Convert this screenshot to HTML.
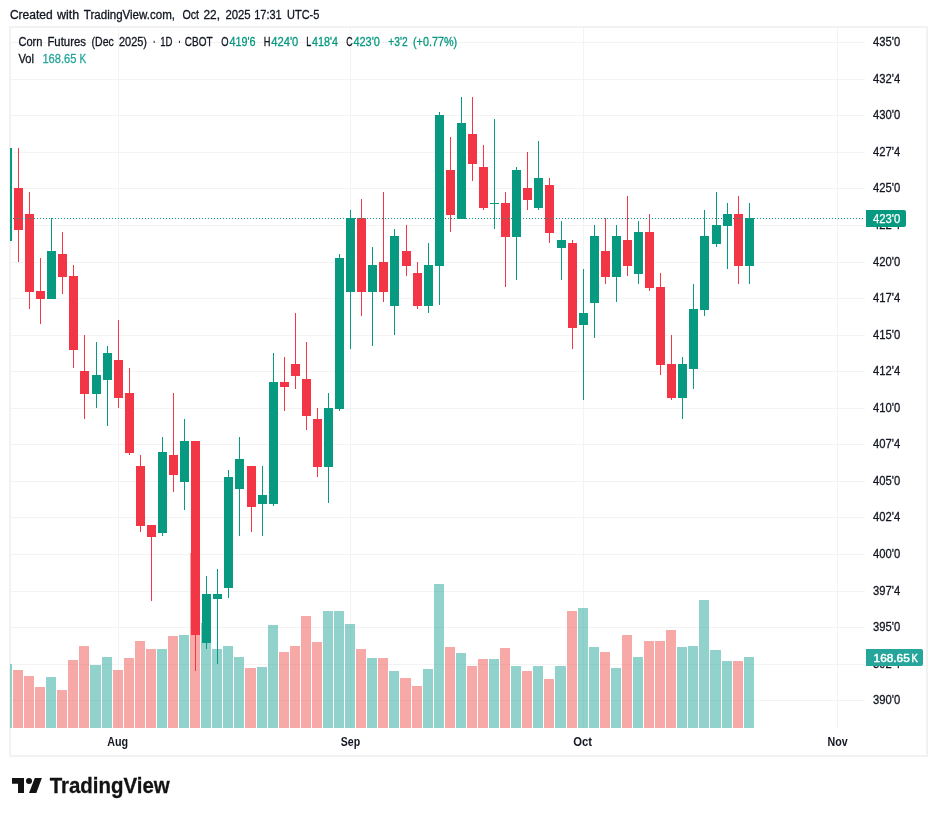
<!DOCTYPE html>
<html><head><meta charset="utf-8"><title>Corn Futures (Dec 2025)</title>
<style>
html,body{margin:0;padding:0;background:#fff;}
body{width:937px;height:816px;position:relative;overflow:hidden;}
svg{position:absolute;left:0;top:0;font-family:"Liberation Sans",sans-serif;}
</style></head><body>
<svg width="937" height="816" viewBox="0 0 937 816" shape-rendering="crispEdges">
<rect x="10" y="27" width="917" height="729" fill="#fff" stroke="#f2f2f3" stroke-width="2"/>
<g id="grid"><rect x="11" y="42" width="854" height="1" fill="#f3f3f4"/><rect x="11" y="79" width="854" height="1" fill="#f3f3f4"/><rect x="11" y="115" width="854" height="1" fill="#f3f3f4"/><rect x="11" y="152" width="854" height="1" fill="#f3f3f4"/><rect x="11" y="188" width="854" height="1" fill="#f3f3f4"/><rect x="11" y="225" width="854" height="1" fill="#f3f3f4"/><rect x="11" y="262" width="854" height="1" fill="#f3f3f4"/><rect x="11" y="298" width="854" height="1" fill="#f3f3f4"/><rect x="11" y="335" width="854" height="1" fill="#f3f3f4"/><rect x="11" y="371" width="854" height="1" fill="#f3f3f4"/><rect x="11" y="408" width="854" height="1" fill="#f3f3f4"/><rect x="11" y="444" width="854" height="1" fill="#f3f3f4"/><rect x="11" y="481" width="854" height="1" fill="#f3f3f4"/><rect x="11" y="517" width="854" height="1" fill="#f3f3f4"/><rect x="11" y="554" width="854" height="1" fill="#f3f3f4"/><rect x="11" y="591" width="854" height="1" fill="#f3f3f4"/><rect x="11" y="627" width="854" height="1" fill="#f3f3f4"/><rect x="11" y="664" width="854" height="1" fill="#f3f3f4"/><rect x="11" y="700" width="854" height="1" fill="#f3f3f4"/><rect x="118" y="28" width="1" height="700" fill="#f3f3f4"/><rect x="350" y="28" width="1" height="700" fill="#f3f3f4"/><rect x="583" y="28" width="1" height="700" fill="#f3f3f4"/><rect x="837" y="28" width="1" height="700" fill="#f3f3f4"/></g>
<g id="volume"><rect x="10" y="664" width="2" height="64" fill="rgba(38,166,154,0.5)"/><rect x="13" y="670" width="10" height="58" fill="rgba(239,83,80,0.5)"/><rect x="24" y="676" width="10" height="52" fill="rgba(239,83,80,0.5)"/><rect x="35" y="687" width="10" height="41" fill="rgba(239,83,80,0.5)"/><rect x="46" y="677" width="10" height="51" fill="rgba(38,166,154,0.5)"/><rect x="57" y="690" width="10" height="38" fill="rgba(239,83,80,0.5)"/><rect x="68" y="660" width="10" height="68" fill="rgba(239,83,80,0.5)"/><rect x="79" y="646" width="10" height="82" fill="rgba(239,83,80,0.5)"/><rect x="90" y="665" width="11" height="63" fill="rgba(38,166,154,0.5)"/><rect x="102" y="657" width="10" height="71" fill="rgba(38,166,154,0.5)"/><rect x="113" y="670" width="10" height="58" fill="rgba(239,83,80,0.5)"/><rect x="124" y="658" width="10" height="70" fill="rgba(239,83,80,0.5)"/><rect x="135" y="641" width="10" height="87" fill="rgba(239,83,80,0.5)"/><rect x="146" y="649" width="10" height="79" fill="rgba(239,83,80,0.5)"/><rect x="157" y="649" width="10" height="79" fill="rgba(38,166,154,0.5)"/><rect x="168" y="636" width="10" height="92" fill="rgba(239,83,80,0.5)"/><rect x="179" y="635" width="10" height="93" fill="rgba(38,166,154,0.5)"/><rect x="190" y="553" width="10" height="175" fill="rgba(239,83,80,0.5)"/><rect x="201" y="623" width="10" height="105" fill="rgba(38,166,154,0.5)"/><rect x="212" y="649" width="10" height="79" fill="rgba(38,166,154,0.5)"/><rect x="223" y="646" width="10" height="82" fill="rgba(38,166,154,0.5)"/><rect x="234" y="657" width="10" height="71" fill="rgba(38,166,154,0.5)"/><rect x="245" y="668" width="11" height="60" fill="rgba(239,83,80,0.5)"/><rect x="257" y="667" width="10" height="61" fill="rgba(38,166,154,0.5)"/><rect x="268" y="625" width="10" height="103" fill="rgba(38,166,154,0.5)"/><rect x="279" y="652" width="10" height="76" fill="rgba(239,83,80,0.5)"/><rect x="290" y="646" width="10" height="82" fill="rgba(239,83,80,0.5)"/><rect x="301" y="616" width="10" height="112" fill="rgba(239,83,80,0.5)"/><rect x="312" y="642" width="10" height="86" fill="rgba(239,83,80,0.5)"/><rect x="323" y="611" width="10" height="117" fill="rgba(38,166,154,0.5)"/><rect x="334" y="611" width="10" height="117" fill="rgba(38,166,154,0.5)"/><rect x="345" y="624" width="10" height="104" fill="rgba(38,166,154,0.5)"/><rect x="356" y="649" width="10" height="79" fill="rgba(239,83,80,0.5)"/><rect x="367" y="658" width="10" height="70" fill="rgba(38,166,154,0.5)"/><rect x="378" y="658" width="10" height="70" fill="rgba(239,83,80,0.5)"/><rect x="389" y="671" width="10" height="57" fill="rgba(38,166,154,0.5)"/><rect x="400" y="678" width="11" height="50" fill="rgba(239,83,80,0.5)"/><rect x="412" y="686" width="10" height="42" fill="rgba(239,83,80,0.5)"/><rect x="423" y="669" width="10" height="59" fill="rgba(38,166,154,0.5)"/><rect x="434" y="584" width="10" height="144" fill="rgba(38,166,154,0.5)"/><rect x="445" y="647" width="10" height="81" fill="rgba(239,83,80,0.5)"/><rect x="456" y="653" width="10" height="75" fill="rgba(38,166,154,0.5)"/><rect x="467" y="666" width="10" height="62" fill="rgba(239,83,80,0.5)"/><rect x="478" y="659" width="10" height="69" fill="rgba(239,83,80,0.5)"/><rect x="489" y="659" width="10" height="69" fill="rgba(38,166,154,0.5)"/><rect x="500" y="648" width="10" height="80" fill="rgba(239,83,80,0.5)"/><rect x="511" y="666" width="10" height="62" fill="rgba(38,166,154,0.5)"/><rect x="522" y="671" width="10" height="57" fill="rgba(239,83,80,0.5)"/><rect x="533" y="666" width="10" height="62" fill="rgba(38,166,154,0.5)"/><rect x="544" y="679" width="10" height="49" fill="rgba(239,83,80,0.5)"/><rect x="555" y="666" width="11" height="62" fill="rgba(38,166,154,0.5)"/><rect x="567" y="611" width="10" height="117" fill="rgba(239,83,80,0.5)"/><rect x="578" y="608" width="10" height="120" fill="rgba(38,166,154,0.5)"/><rect x="589" y="647" width="10" height="81" fill="rgba(38,166,154,0.5)"/><rect x="600" y="652" width="10" height="76" fill="rgba(239,83,80,0.5)"/><rect x="611" y="668" width="10" height="60" fill="rgba(38,166,154,0.5)"/><rect x="622" y="635" width="10" height="93" fill="rgba(239,83,80,0.5)"/><rect x="633" y="657" width="10" height="71" fill="rgba(38,166,154,0.5)"/><rect x="644" y="641" width="10" height="87" fill="rgba(239,83,80,0.5)"/><rect x="655" y="641" width="10" height="87" fill="rgba(239,83,80,0.5)"/><rect x="666" y="630" width="10" height="98" fill="rgba(239,83,80,0.5)"/><rect x="677" y="647" width="10" height="81" fill="rgba(38,166,154,0.5)"/><rect x="688" y="646" width="10" height="82" fill="rgba(38,166,154,0.5)"/><rect x="699" y="600" width="10" height="128" fill="rgba(38,166,154,0.5)"/><rect x="710" y="650" width="11" height="78" fill="rgba(38,166,154,0.5)"/><rect x="722" y="661" width="10" height="67" fill="rgba(38,166,154,0.5)"/><rect x="733" y="661" width="10" height="67" fill="rgba(239,83,80,0.5)"/><rect x="744" y="657" width="10" height="71" fill="rgba(38,166,154,0.5)"/></g>
<g id="candles"><rect x="10" y="148" width="2" height="93" fill="#089981"/><rect x="18" y="148" width="1" height="114" fill="#f23645"/><rect x="14" y="188" width="9" height="42" fill="#f23645"/><rect x="29" y="192" width="1" height="117" fill="#f23645"/><rect x="25" y="214" width="9" height="78" fill="#f23645"/><rect x="40" y="258" width="1" height="66" fill="#f23645"/><rect x="36" y="291" width="9" height="8" fill="#f23645"/><rect x="51" y="218" width="1" height="81" fill="#089981"/><rect x="47" y="251" width="9" height="48" fill="#089981"/><rect x="62" y="232" width="1" height="62" fill="#f23645"/><rect x="58" y="254" width="9" height="23" fill="#f23645"/><rect x="73" y="265" width="1" height="103" fill="#f23645"/><rect x="69" y="276" width="9" height="74" fill="#f23645"/><rect x="84" y="335" width="1" height="84" fill="#f23645"/><rect x="80" y="371" width="9" height="23" fill="#f23645"/><rect x="96" y="342" width="1" height="66" fill="#089981"/><rect x="92" y="375" width="9" height="19" fill="#089981"/><rect x="107" y="346" width="1" height="80" fill="#089981"/><rect x="103" y="353" width="9" height="27" fill="#089981"/><rect x="118" y="320" width="1" height="88" fill="#f23645"/><rect x="114" y="360" width="9" height="38" fill="#f23645"/><rect x="129" y="368" width="1" height="87" fill="#f23645"/><rect x="125" y="393" width="9" height="60" fill="#f23645"/><rect x="140" y="455" width="1" height="77" fill="#f23645"/><rect x="136" y="466" width="9" height="60" fill="#f23645"/><rect x="151" y="525" width="1" height="76" fill="#f23645"/><rect x="147" y="525" width="9" height="12" fill="#f23645"/><rect x="162" y="437" width="1" height="99" fill="#089981"/><rect x="158" y="452" width="9" height="81" fill="#089981"/><rect x="173" y="393" width="1" height="99" fill="#f23645"/><rect x="169" y="455" width="9" height="20" fill="#f23645"/><rect x="184" y="419" width="1" height="91" fill="#089981"/><rect x="180" y="441" width="9" height="41" fill="#089981"/><rect x="195" y="441" width="1" height="230" fill="#f23645"/><rect x="191" y="441" width="9" height="194" fill="#f23645"/><rect x="206" y="576" width="1" height="73" fill="#089981"/><rect x="202" y="594" width="9" height="49" fill="#089981"/><rect x="217" y="569" width="1" height="95" fill="#089981"/><rect x="213" y="594" width="9" height="5" fill="#089981"/><rect x="228" y="470" width="1" height="128" fill="#089981"/><rect x="224" y="477" width="9" height="111" fill="#089981"/><rect x="239" y="437" width="1" height="99" fill="#089981"/><rect x="235" y="459" width="9" height="30" fill="#089981"/><rect x="251" y="466" width="1" height="66" fill="#f23645"/><rect x="247" y="466" width="9" height="41" fill="#f23645"/><rect x="262" y="466" width="1" height="70" fill="#089981"/><rect x="258" y="495" width="9" height="9" fill="#089981"/><rect x="273" y="353" width="1" height="153" fill="#089981"/><rect x="269" y="382" width="9" height="122" fill="#089981"/><rect x="284" y="357" width="1" height="54" fill="#f23645"/><rect x="280" y="382" width="9" height="5" fill="#f23645"/><rect x="295" y="313" width="1" height="76" fill="#f23645"/><rect x="291" y="364" width="9" height="12" fill="#f23645"/><rect x="306" y="342" width="1" height="88" fill="#f23645"/><rect x="302" y="379" width="9" height="37" fill="#f23645"/><rect x="317" y="408" width="1" height="69" fill="#f23645"/><rect x="313" y="419" width="9" height="48" fill="#f23645"/><rect x="328" y="393" width="1" height="110" fill="#089981"/><rect x="324" y="408" width="9" height="59" fill="#089981"/><rect x="339" y="254" width="1" height="157" fill="#089981"/><rect x="335" y="258" width="9" height="151" fill="#089981"/><rect x="350" y="210" width="1" height="139" fill="#089981"/><rect x="346" y="218" width="9" height="74" fill="#089981"/><rect x="361" y="199" width="1" height="117" fill="#f23645"/><rect x="357" y="218" width="9" height="74" fill="#f23645"/><rect x="372" y="247" width="1" height="99" fill="#089981"/><rect x="368" y="265" width="9" height="27" fill="#089981"/><rect x="383" y="192" width="1" height="110" fill="#f23645"/><rect x="379" y="262" width="9" height="30" fill="#f23645"/><rect x="394" y="229" width="1" height="106" fill="#089981"/><rect x="390" y="236" width="9" height="70" fill="#089981"/><rect x="406" y="225" width="1" height="51" fill="#f23645"/><rect x="402" y="251" width="9" height="15" fill="#f23645"/><rect x="417" y="262" width="1" height="47" fill="#f23645"/><rect x="413" y="273" width="9" height="33" fill="#f23645"/><rect x="428" y="243" width="1" height="70" fill="#089981"/><rect x="424" y="265" width="9" height="41" fill="#089981"/><rect x="439" y="112" width="1" height="193" fill="#089981"/><rect x="435" y="115" width="9" height="151" fill="#089981"/><rect x="450" y="137" width="1" height="95" fill="#f23645"/><rect x="446" y="170" width="9" height="45" fill="#f23645"/><rect x="461" y="97" width="1" height="122" fill="#089981"/><rect x="457" y="123" width="9" height="96" fill="#089981"/><rect x="472" y="97" width="1" height="84" fill="#f23645"/><rect x="468" y="134" width="9" height="30" fill="#f23645"/><rect x="483" y="145" width="1" height="65" fill="#f23645"/><rect x="479" y="167" width="9" height="41" fill="#f23645"/><rect x="494" y="119" width="1" height="110" fill="#089981"/><rect x="490" y="203" width="9" height="1" fill="#089981"/><rect x="505" y="192" width="1" height="95" fill="#f23645"/><rect x="501" y="203" width="9" height="34" fill="#f23645"/><rect x="516" y="167" width="1" height="113" fill="#089981"/><rect x="512" y="170" width="9" height="67" fill="#089981"/><rect x="527" y="152" width="1" height="58" fill="#f23645"/><rect x="523" y="188" width="9" height="12" fill="#f23645"/><rect x="538" y="141" width="1" height="69" fill="#089981"/><rect x="534" y="178" width="9" height="30" fill="#089981"/><rect x="549" y="178" width="1" height="65" fill="#f23645"/><rect x="545" y="185" width="9" height="48" fill="#f23645"/><rect x="561" y="221" width="1" height="59" fill="#089981"/><rect x="557" y="240" width="9" height="8" fill="#089981"/><rect x="572" y="240" width="1" height="109" fill="#f23645"/><rect x="568" y="243" width="9" height="85" fill="#f23645"/><rect x="583" y="269" width="1" height="131" fill="#089981"/><rect x="579" y="313" width="9" height="12" fill="#089981"/><rect x="594" y="225" width="1" height="113" fill="#089981"/><rect x="590" y="236" width="9" height="67" fill="#089981"/><rect x="605" y="218" width="1" height="66" fill="#f23645"/><rect x="601" y="251" width="9" height="26" fill="#f23645"/><rect x="616" y="225" width="1" height="77" fill="#089981"/><rect x="612" y="236" width="9" height="41" fill="#089981"/><rect x="627" y="196" width="1" height="80" fill="#f23645"/><rect x="623" y="240" width="9" height="26" fill="#f23645"/><rect x="638" y="221" width="1" height="63" fill="#089981"/><rect x="634" y="232" width="9" height="42" fill="#089981"/><rect x="649" y="214" width="1" height="77" fill="#f23645"/><rect x="645" y="232" width="9" height="56" fill="#f23645"/><rect x="660" y="273" width="1" height="102" fill="#f23645"/><rect x="656" y="287" width="9" height="78" fill="#f23645"/><rect x="671" y="335" width="1" height="65" fill="#f23645"/><rect x="667" y="364" width="9" height="34" fill="#f23645"/><rect x="682" y="357" width="1" height="62" fill="#089981"/><rect x="678" y="364" width="9" height="34" fill="#089981"/><rect x="693" y="284" width="1" height="105" fill="#089981"/><rect x="689" y="309" width="9" height="60" fill="#089981"/><rect x="704" y="210" width="1" height="106" fill="#089981"/><rect x="700" y="236" width="9" height="74" fill="#089981"/><rect x="716" y="192" width="1" height="55" fill="#089981"/><rect x="712" y="225" width="9" height="19" fill="#089981"/><rect x="727" y="203" width="1" height="66" fill="#089981"/><rect x="723" y="214" width="9" height="12" fill="#089981"/><rect x="738" y="196" width="1" height="88" fill="#f23645"/><rect x="734" y="214" width="9" height="52" fill="#f23645"/><rect x="749" y="203" width="1" height="81" fill="#089981"/><rect x="745" y="218" width="9" height="48" fill="#089981"/></g>
<line x1="13" y1="218.5" x2="864" y2="218.5" stroke="#089981" stroke-width="1" stroke-dasharray="1 2"/>
<g id="labels"><text><tspan x="9.90" y="18.80" font-size="12" textLength="42.89" lengthAdjust="spacingAndGlyphs" fill="#131722" stroke="#131722" stroke-width="0.3">Created</tspan> <tspan x="57.05" y="18.80" font-size="12" textLength="22.14" lengthAdjust="spacingAndGlyphs" fill="#131722" stroke="#131722" stroke-width="0.3">with</tspan> <tspan x="83.80" y="18.80" font-size="12" textLength="91.22" lengthAdjust="spacingAndGlyphs" fill="#131722" stroke="#131722" stroke-width="0.3">TradingView.com,</tspan> <tspan x="182.40" y="18.80" font-size="12" textLength="16.62" lengthAdjust="spacingAndGlyphs" fill="#131722" stroke="#131722" stroke-width="0.3">Oct</tspan> <tspan x="203.50" y="18.80" font-size="12" textLength="16.48" lengthAdjust="spacingAndGlyphs" fill="#131722" stroke="#131722" stroke-width="0.3">22,</tspan> <tspan x="225.40" y="18.80" font-size="12" textLength="25.30" lengthAdjust="spacingAndGlyphs" fill="#131722" stroke="#131722" stroke-width="0.3">2025</tspan> <tspan x="254.20" y="18.80" font-size="12" textLength="27.48" lengthAdjust="spacingAndGlyphs" fill="#131722" stroke="#131722" stroke-width="0.3">17:31</tspan> <tspan x="287.00" y="18.80" font-size="12" textLength="32.38" lengthAdjust="spacingAndGlyphs" fill="#131722" stroke="#131722" stroke-width="0.3">UTC-5</tspan></text><text><tspan x="18.40" y="46.00" font-size="12" textLength="24.01" lengthAdjust="spacingAndGlyphs" fill="#131722" stroke="#131722" stroke-width="0.3">Corn</tspan> <tspan x="47.40" y="46.00" font-size="12" textLength="38.58" lengthAdjust="spacingAndGlyphs" fill="#131722" stroke="#131722" stroke-width="0.3">Futures</tspan> <tspan x="91.60" y="46.00" font-size="12" textLength="22.19" lengthAdjust="spacingAndGlyphs" fill="#131722" stroke="#131722" stroke-width="0.3">(Dec</tspan> <tspan x="119.00" y="46.00" font-size="12" textLength="27.99" lengthAdjust="spacingAndGlyphs" fill="#131722" stroke="#131722" stroke-width="0.3">2025)</tspan> <tspan x="153.20" y="46.60" font-size="15" textLength="2.20" lengthAdjust="spacingAndGlyphs" fill="#131722" font-weight="bold">·</tspan> <tspan x="160.20" y="46.00" font-size="12" textLength="12.29" lengthAdjust="spacingAndGlyphs" fill="#131722" stroke="#131722" stroke-width="0.3">1D</tspan> <tspan x="178.60" y="46.60" font-size="15" textLength="2.20" lengthAdjust="spacingAndGlyphs" fill="#131722" font-weight="bold">·</tspan> <tspan x="184.80" y="46.00" font-size="12" textLength="27.69" lengthAdjust="spacingAndGlyphs" fill="#131722" stroke="#131722" stroke-width="0.3">CBOT</tspan> <tspan x="221.30" y="46.00" font-size="12" textLength="7.29" lengthAdjust="spacingAndGlyphs" fill="#131722" stroke="#131722" stroke-width="0.3">O</tspan><tspan x="229.40" y="46.00" font-size="12" textLength="26.09" lengthAdjust="spacingAndGlyphs" fill="#089981" stroke="#089981" stroke-width="0.3">419'6</tspan> <tspan x="263.80" y="46.00" font-size="12" textLength="6.71" lengthAdjust="spacingAndGlyphs" fill="#131722" stroke="#131722" stroke-width="0.3">H</tspan><tspan x="271.20" y="46.00" font-size="12" textLength="27.09" lengthAdjust="spacingAndGlyphs" fill="#089981" stroke="#089981" stroke-width="0.3">424'0</tspan> <tspan x="306.30" y="46.00" font-size="12" textLength="5.02" lengthAdjust="spacingAndGlyphs" fill="#131722" stroke="#131722" stroke-width="0.3">L</tspan><tspan x="312.10" y="46.00" font-size="12" textLength="25.99" lengthAdjust="spacingAndGlyphs" fill="#089981" stroke="#089981" stroke-width="0.3">418'4</tspan> <tspan x="346.30" y="46.00" font-size="12" textLength="6.41" lengthAdjust="spacingAndGlyphs" fill="#131722" stroke="#131722" stroke-width="0.3">C</tspan><tspan x="353.40" y="46.00" font-size="12" textLength="26.49" lengthAdjust="spacingAndGlyphs" fill="#089981" stroke="#089981" stroke-width="0.3">423'0</tspan> <tspan x="388.30" y="46.00" font-size="12" textLength="19.30" lengthAdjust="spacingAndGlyphs" fill="#089981" stroke="#089981" stroke-width="0.3">+3'2</tspan> <tspan x="413.00" y="46.00" font-size="12" textLength="44.08" lengthAdjust="spacingAndGlyphs" fill="#089981" stroke="#089981" stroke-width="0.3">(+0.77%)</tspan></text><text><tspan x="18.40" y="62.80" font-size="12" textLength="15.58" lengthAdjust="spacingAndGlyphs" fill="#131722" stroke="#131722" stroke-width="0.3">Vol</tspan> <tspan x="42.40" y="62.80" font-size="12" textLength="34.01" lengthAdjust="spacingAndGlyphs" fill="#26a69a" stroke="#26a69a" stroke-width="0.3">168.65</tspan> <tspan x="79.60" y="62.80" font-size="12" textLength="6.70" lengthAdjust="spacingAndGlyphs" fill="#26a69a" stroke="#26a69a" stroke-width="0.3">K</tspan></text><text x="873.00" y="46.30" font-size="12" textLength="27.19" lengthAdjust="spacingAndGlyphs" fill="#131722" stroke="#131722" stroke-width="0.3">435'0</text><text x="873.00" y="83.30" font-size="12" textLength="27.19" lengthAdjust="spacingAndGlyphs" fill="#131722" stroke="#131722" stroke-width="0.3">432'4</text><text x="873.00" y="119.30" font-size="12" textLength="27.19" lengthAdjust="spacingAndGlyphs" fill="#131722" stroke="#131722" stroke-width="0.3">430'0</text><text x="873.00" y="156.30" font-size="12" textLength="27.19" lengthAdjust="spacingAndGlyphs" fill="#131722" stroke="#131722" stroke-width="0.3">427'4</text><text x="873.00" y="192.30" font-size="12" textLength="27.19" lengthAdjust="spacingAndGlyphs" fill="#131722" stroke="#131722" stroke-width="0.3">425'0</text><text x="873.00" y="229.30" font-size="12" textLength="27.19" lengthAdjust="spacingAndGlyphs" fill="#131722" stroke="#131722" stroke-width="0.3">422'4</text><text x="873.00" y="266.30" font-size="12" textLength="27.19" lengthAdjust="spacingAndGlyphs" fill="#131722" stroke="#131722" stroke-width="0.3">420'0</text><text x="873.00" y="302.30" font-size="12" textLength="27.19" lengthAdjust="spacingAndGlyphs" fill="#131722" stroke="#131722" stroke-width="0.3">417'4</text><text x="873.00" y="339.30" font-size="12" textLength="27.19" lengthAdjust="spacingAndGlyphs" fill="#131722" stroke="#131722" stroke-width="0.3">415'0</text><text x="873.00" y="375.30" font-size="12" textLength="27.19" lengthAdjust="spacingAndGlyphs" fill="#131722" stroke="#131722" stroke-width="0.3">412'4</text><text x="873.00" y="412.30" font-size="12" textLength="27.19" lengthAdjust="spacingAndGlyphs" fill="#131722" stroke="#131722" stroke-width="0.3">410'0</text><text x="873.00" y="448.30" font-size="12" textLength="27.19" lengthAdjust="spacingAndGlyphs" fill="#131722" stroke="#131722" stroke-width="0.3">407'4</text><text x="873.00" y="485.30" font-size="12" textLength="27.19" lengthAdjust="spacingAndGlyphs" fill="#131722" stroke="#131722" stroke-width="0.3">405'0</text><text x="873.00" y="521.30" font-size="12" textLength="27.19" lengthAdjust="spacingAndGlyphs" fill="#131722" stroke="#131722" stroke-width="0.3">402'4</text><text x="873.00" y="558.30" font-size="12" textLength="27.19" lengthAdjust="spacingAndGlyphs" fill="#131722" stroke="#131722" stroke-width="0.3">400'0</text><text x="873.00" y="595.30" font-size="12" textLength="27.19" lengthAdjust="spacingAndGlyphs" fill="#131722" stroke="#131722" stroke-width="0.3">397'4</text><text x="873.00" y="631.30" font-size="12" textLength="27.19" lengthAdjust="spacingAndGlyphs" fill="#131722" stroke="#131722" stroke-width="0.3">395'0</text><text x="873.00" y="668.30" font-size="12" textLength="27.19" lengthAdjust="spacingAndGlyphs" fill="#131722" stroke="#131722" stroke-width="0.3">392'4</text><text x="873.00" y="704.30" font-size="12" textLength="27.19" lengthAdjust="spacingAndGlyphs" fill="#131722" stroke="#131722" stroke-width="0.3">390'0</text><text x="107.20" y="745.90" font-size="12" textLength="20.88" lengthAdjust="spacingAndGlyphs" fill="#131722" font-weight="bold">Aug</text><text x="340.70" y="745.90" font-size="12" textLength="19.41" lengthAdjust="spacingAndGlyphs" fill="#131722" font-weight="bold">Sep</text><text x="573.30" y="745.90" font-size="12" textLength="18.80" lengthAdjust="spacingAndGlyphs" fill="#131722" font-weight="bold">Oct</text><text x="827.60" y="745.90" font-size="12" textLength="20.12" lengthAdjust="spacingAndGlyphs" fill="#131722" font-weight="bold">Nov</text></g>
<g id="tags"><path d="M866 210h38a2 2 0 0 1 2 2v13a2 2 0 0 1 -2 2h-38z" fill="#089981" shape-rendering="geometricPrecision"/><text x="872.90" y="222.90" font-size="12" textLength="27.39" lengthAdjust="spacingAndGlyphs" fill="#fff" stroke="#fff" stroke-width="0.25">423'0</text><path d="M866 649h55a2 2 0 0 1 2 2v13a2 2 0 0 1 -2 2h-55z" fill="#26a69a" shape-rendering="geometricPrecision"/><text><tspan x="873.60" y="661.60" font-size="11.2" textLength="36.11" lengthAdjust="spacingAndGlyphs" fill="#fff" stroke="#fff" stroke-width="0.45">168.65</tspan> <tspan x="911.60" y="661.60" font-size="11.2" textLength="6.32" lengthAdjust="spacingAndGlyphs" fill="#fff" stroke="#fff" stroke-width="0.45">K</tspan></text></g>
<g fill="#131313" shape-rendering="geometricPrecision"><path d="M12 778H24V793H18V783.800H12z"/><path d="M29 793H36.300L41.900 778H34.800z"/><circle cx="29" cy="780.900" r="3"/></g>
<text x="49.70" y="793.00" font-size="22" textLength="119.94" lengthAdjust="spacingAndGlyphs" fill="#131313" font-weight="bold" stroke="#131313" stroke-width="0.3">TradingView</text>
</svg>
</body></html>
